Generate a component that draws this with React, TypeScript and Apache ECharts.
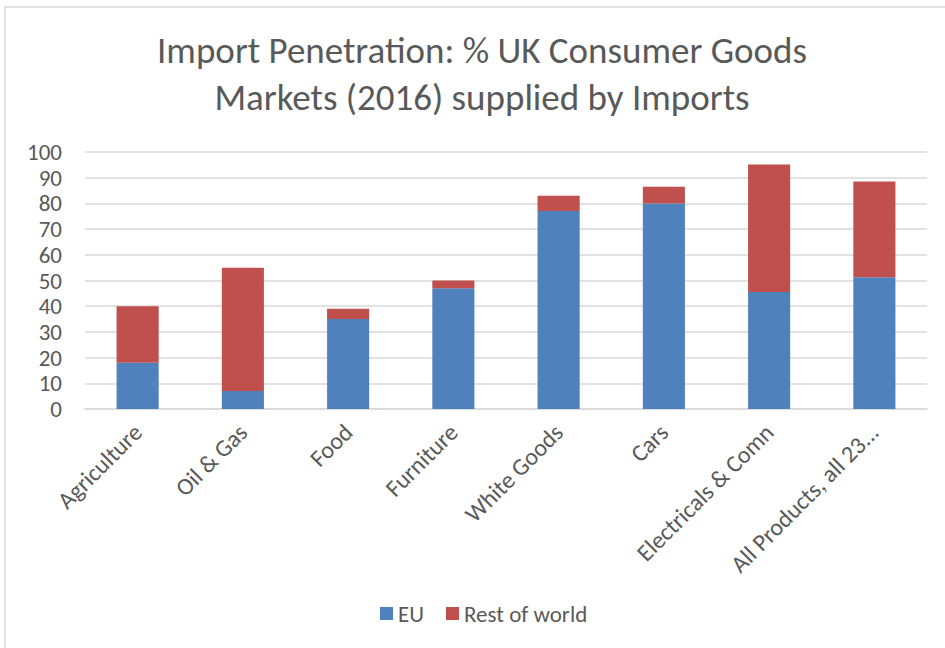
import React, { useEffect, useRef } from "react";
import * as echarts from "echarts";

const categories = [
  "Agriculture",
  "Oil & Gas",
  "Food",
  "Furniture",
  "White Goods",
  "Cars",
  "Electricals & Comn",
  "All Products, all 23...",
];
const euValues = [18, 7, 35, 47, 77, 80, 45.5, 51.3];
const restOfWorldValues = [22, 48, 4, 3, 6, 6.5, 49.6, 37.2];
const yTicks = [0, 10, 20, 30, 40, 50, 60, 70, 80, 90, 100];
const titleLines = ["Import Penetration: % UK Consumer Goods", "Markets (2016) supplied by Imports"];

const FONT = "Carlito, Lato, 'Open Sans', sans-serif";

export default function App() {
  const ref = useRef<HTMLDivElement>(null);
  useEffect(() => {
    if (!ref.current) return;
    const chart = echarts.init(ref.current, null, { renderer: "svg" });
    chart.setOption({
      animation: false,
      backgroundColor: "#ffffff",
      graphic: [
        {
          type: "rect",
          shape: { x: 5, y: 7, width: 950, height: 660 },
          style: { fill: "none", stroke: "#d9d9d9", lineWidth: 1.5 },
          silent: true,
        },
        {
          type: "text",
          x: 482,
          y: 27,
          silent: true,
          style: {
            text: titleLines.join("\n"),
            align: "center",
            verticalAlign: "top",
            fill: "#595959",
            fontSize: 37,
            fontFamily: FONT,
            lineHeight: 47,
          },
        },
      ],
      legend: {
        top: 597,
        left: 375,
        itemWidth: 13,
        itemHeight: 13,
        itemGap: 22,
        icon: "rect",
        textStyle: { color: "#595959", fontSize: 23, fontFamily: FONT },
        data: ["EU", "Rest of world"],
      },
      grid: { left: 85, right: 18, top: 152, bottom: 239, containLabel: false },
      xAxis: {
        type: "category",
        data: categories,
        axisLine: { lineStyle: { color: "#d9d9d9", width: 1.5 } },
        axisTick: { show: false },
        axisLabel: {
          rotate: 45,
          interval: 0,
          color: "#595959",
          fontSize: 24,
          fontFamily: FONT,
          margin: 19,
        },
      },
      yAxis: {
        type: "value",
        min: yTicks[0],
        max: yTicks[yTicks.length - 1],
        interval: 10,
        axisLine: { show: false },
        axisTick: { show: false },
        splitLine: { lineStyle: { color: "#d9d9d9", width: 1.5 } },
        axisLabel: {
          color: "#595959",
          fontSize: 23,
          fontFamily: FONT,
          margin: 23,
        },
      },
      series: [
        {
          name: "EU",
          type: "bar",
          stack: "total",
          data: euValues,
          barWidth: "40%",
          itemStyle: { color: "#4f81bd" },
        },
        {
          name: "Rest of world",
          type: "bar",
          stack: "total",
          data: restOfWorldValues,
          barWidth: "40%",
          itemStyle: { color: "#c0504d" },
        },
      ],
    });
    return () => chart.dispose();
  }, []);
  return <div ref={ref} style={{ width: 945, height: 648, position: "absolute", left: 0, top: 0 }} />;
}
